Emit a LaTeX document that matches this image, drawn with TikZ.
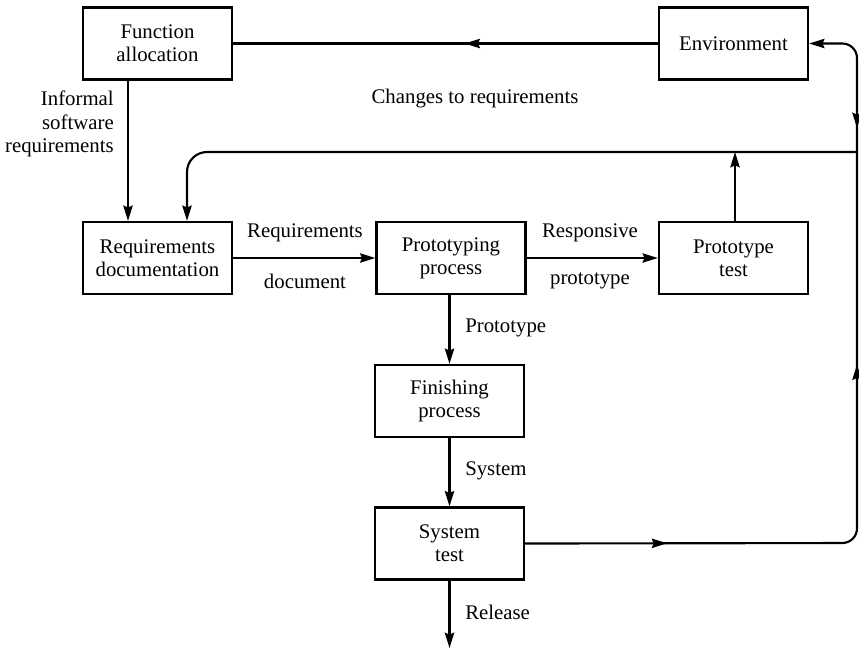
\documentclass[tikz,border=0pt]{standalone}
\usepackage{fontspec}
\setmainfont{Liberation Serif}
\usetikzlibrary{arrows.meta,decorations.markings}
\tikzset{
  tipA/.tip={Stealth[length=11.5pt,width=7pt,inset=1.5pt]},
  box/.style={draw,line width=1.7pt,minimum width=111.75pt,minimum height=54pt,inner sep=0pt,align=center,font=\fontsize{15.6}{17.5}\selectfont},
  conn/.style={line width=1.6pt},
  lbl/.style={inner sep=0pt,font=\fontsize{15.6}{17.5}\selectfont},
}
\begin{document}
\begin{tikzpicture}[x=0.75pt,y=-0.75pt]
\useasboundingbox (0,0) rectangle (859,651);
\clip (0,0) rectangle (859,651);
% boxes
\node[box] (fa) at (157.5,43.5) {Function\\allocation};
\node[box] (env) at (733.5,43.5) {Environment};
\node[box] (rd) at (157.5,258) {Requirements\\documentation};
\node[box] (pp) at (451,258) {Prototyping\\process};
\node[box] (pt) at (733.5,258) {Prototype\\test};
\node[box] (fp) at (449.5,401) {Finishing\\process};
\node[box] (st) at (449.5,543.5) {System\\test};
\coordinate (rel) at (449.5,648);
\coordinate (jr) at (857,152);
\coordinate (jpt) at (735,152);
\coordinate (cbr) at (857,543);
\coordinate (ctr) at (857,43.5);
\coordinate (ctl) at (187,152);
% connectors
\draw[conn,postaction=decorate,decoration={markings,mark=at position 0.455 with {\arrow{tipA}}}] (env.west) -- (fa.east);
\draw[conn,-tipA] (fa.south -| 128,0) -- (rd.north -| 128,0);
\draw[conn,-tipA] (rd.east) -- (pp.west);
\draw[conn,-tipA] (pp.east) -- (pt.west);
\draw[conn,-tipA] (pt.north -| jpt) -- (jpt);
\draw[conn,-tipA,rounded corners=15pt] (jr) -- (ctl) -- (rd.north -| ctl);
\draw[conn,-tipA] (pp.south -| fp.north) -- (fp.north);
\draw[conn,-tipA] (fp.south) -- (st.north);
\draw[conn,-tipA] (st.south) -- (rel);
\draw[conn,rounded corners=11pt,postaction=decorate,decoration={markings,
   mark=at position 106.5pt with {\arrow{tipA}},
   mark=at position 378pt with {\arrow{tipA}}}] (st.east) -- (cbr) -- (jr);
\draw[conn,-tipA,rounded corners=11pt,postaction=decorate,decoration={markings,
   mark=at position 18pt with {\arrowreversed{tipA}}}] (jr) -- (ctr) -- (env.east);
% labels
\node[lbl,anchor=east,align=right] (l1) at (114,124) {Informal\\software\\requirements};
\node[lbl] (l2) at (475,99) {Changes to requirements};
\node[lbl] (l3) at (305,233) {Requirements};
\node[lbl] (l4) at (305,281) {document};
\node[lbl] (l5) at (590,233) {Responsive};
\node[lbl] (l6) at (590,281) {prototype};
\node[lbl,anchor=west] (l7) at (465,328) {Prototype};
\node[lbl,anchor=west] (l8) at (465,471) {System};
\node[lbl,anchor=west] (l9) at (465,612) {Release};
\end{tikzpicture}
\end{document}
